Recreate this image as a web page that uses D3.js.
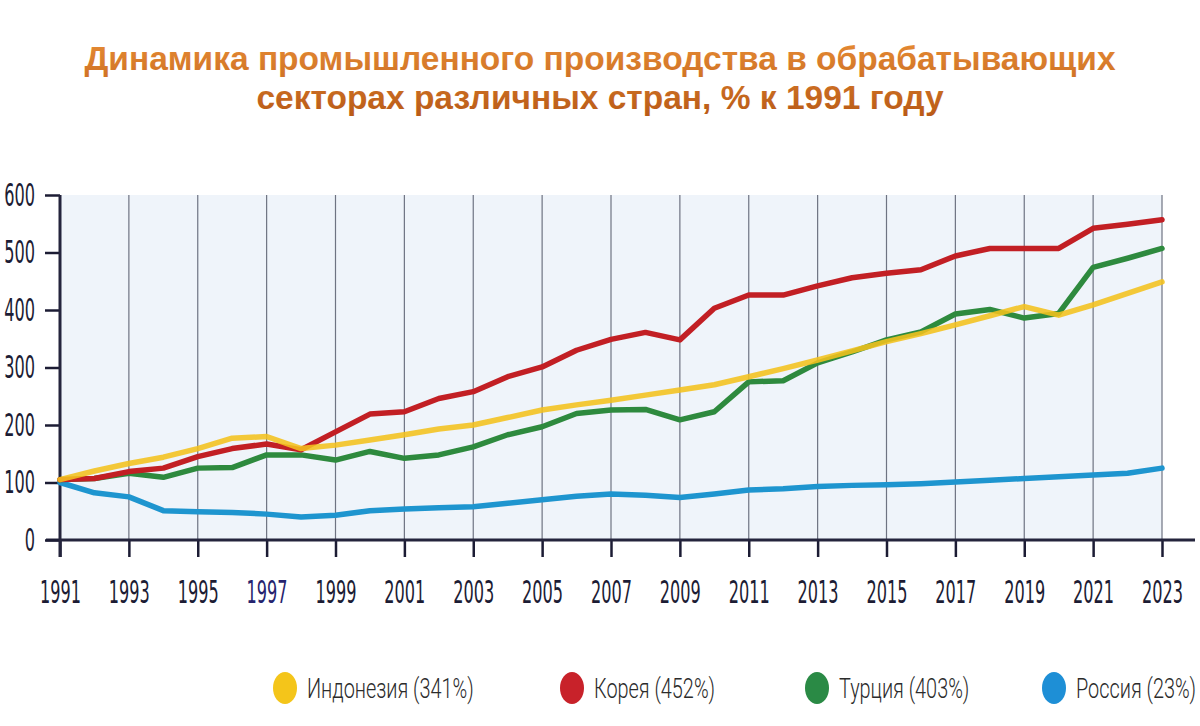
<!DOCTYPE html>
<html lang="ru">
<head>
    <meta charset="UTF-8">
    <title>Динамика промышленного производства</title>
    <script src="https://d3js.org/d3.v7.min.js"></script>
    <style>
        body {
            margin: 0;
            background: #ffffff;
        }
        svg {
            display: block;
        }
        .tick-label {
            font-family: "DejaVu Sans Condensed", "DejaVu Sans", sans-serif;
            font-size: 32px;
            fill: #1c1c34;
        }
        .legend-label {
            font-family: Roboto, "Noto Sans", sans-serif;
            font-weight: 300;
            font-size: 28px;
            fill: #2b2b2b;
        }
        .title {
            font-family: "Liberation Sans", Arial, sans-serif;
            font-weight: bold;
            font-size: 33.5px;
        }
    </style>
</head>
<body>
<div id="chart"></div>
<script>
    // chart data, % of 1991 level
    const years = d3.range(1991, 2024);
    const indonesia = [105, 120, 133, 144, 159, 177, 180, 159, 165, 174, 183, 193, 200, 213, 226, 235, 243,
        252, 261, 270, 284, 298, 313, 329, 345, 359, 374, 390, 406, 391, 409, 429, 449];
    const korea = [105, 107, 119, 125, 145, 159, 167, 157, 188, 219, 223, 246, 258, 284, 301, 330, 349,
        361, 348, 403, 426, 426, 442, 456, 464, 470, 494, 507, 507, 507, 542, 549, 557];
    const turkey = [105, 107, 116, 109, 125, 126, 148, 148, 139, 154, 142, 148, 162, 183, 197, 220, 226,
        227, 209, 223, 275, 277, 308, 327, 348, 362, 393, 401, 386, 394, 474, 490, 507];
    const russia = [100, 82, 75, 51, 49, 48, 45, 40, 43, 51, 54, 56, 58, 64, 70, 76, 80,
        78, 74, 80, 87, 89, 93, 95, 96, 98, 101, 104, 107, 110, 113, 116, 125];

    const xTicks = d3.range(1991, 2024, 2);
    const yTicks = [0, 100, 200, 300, 400, 500, 600];

    const seriesNames = ["Индонезия (341%)", "Корея (452%)", "Турция (403%)", "Россия (23%)"];

    const width = 1200, height = 726;
    const plot = { left: 60, right: 1162, top: 195, bottom: 540 };
    const sx = 0.56; // horizontal squeeze for the condensed tick font

    const svg = d3.select("#chart").append("svg")
        .attr("width", width)
        .attr("height", height);

    // title gradient
    const defs = svg.append("defs");
    const grad = defs.append("linearGradient")
        .attr("id", "titleGrad")
        .attr("x1", 0).attr("y1", 0).attr("x2", 0).attr("y2", 1);
    grad.append("stop").attr("offset", "0%").attr("stop-color", "#e68b34");
    grad.append("stop").attr("offset", "100%").attr("stop-color", "#b95a17");

    const title = svg.append("text")
        .attr("class", "title")
        .attr("text-anchor", "middle")
        .attr("fill", "url(#titleGrad)");
    title.append("tspan").attr("x", 600).attr("y", 70)
        .text("Динамика промышленного производства в обрабатывающих");
    title.append("tspan").attr("x", 600).attr("y", 109)
        .text("секторах различных стран, % к 1991 году");

    const x = d3.scaleLinear().domain([1991, 2023]).range([plot.left, plot.right]);
    const y = d3.scaleLinear().domain([0, 600]).range([plot.bottom, plot.top]);

    // panel background
    svg.append("rect")
        .attr("x", x(1991))
        .attr("y", y(600))
        .attr("width", x(2023) - x(1991))
        .attr("height", y(0) - y(600))
        .attr("fill", "#eff4fa");

    // vertical grid lines
    svg.append("g")
        .selectAll("line")
        .data(xTicks.slice(1))
        .enter().append("line")
        .attr("x1", d => x(d)).attr("x2", d => x(d))
        .attr("y1", y(600)).attr("y2", y(0))
        .attr("stroke", "#6e7382")
        .attr("stroke-width", 1.2);

    // x axis
    const xAxis = svg.append("g")
        .attr("transform", `translate(0, ${y(0)})`)
        .call(d3.axisBottom(x).tickValues(xTicks).tickFormat(d3.format("d")).tickSize(17).tickSizeOuter(0));
    xAxis.select(".domain").remove();
    xAxis.attr("font-size", null).attr("font-family", null);
    xAxis.selectAll(".tick line").attr("stroke", "#1c1c34").attr("stroke-width", 2.5);
    xAxis.selectAll(".tick text")
        .attr("class", "tick-label")
        .attr("fill", null)
        .attr("y", 40)
        .attr("dy", "0.71em")
        .attr("transform", `scale(${sx},1)`)
        .style("fill", d => d === 1997 ? "#26246e" : "#1c1c34");

    svg.append("line")
        .attr("x1", x(1991) - 14).attr("x2", x(2023) + 33)
        .attr("y1", y(0)).attr("y2", y(0))
        .attr("stroke", "#24243c")
        .attr("stroke-width", 3);

    // y axis
    const yAxis = svg.append("g")
        .attr("transform", `translate(${plot.left}, 0)`)
        .call(d3.axisLeft(y).tickValues(yTicks).tickSize(15).tickSizeOuter(0));
    yAxis.select(".domain").remove();
    yAxis.attr("font-size", null).attr("font-family", null);
    yAxis.selectAll(".tick line").attr("stroke", "#1c1c34").attr("stroke-width", 2.5);
    yAxis.selectAll(".tick text")
        .attr("class", "tick-label")
        .attr("fill", null)
        .attr("x", -25 / sx)
        .attr("transform", `scale(${sx},1)`);

    svg.append("line")
        .attr("x1", plot.left).attr("x2", plot.left)
        .attr("y1", y(600)).attr("y2", y(0) + 17)
        .attr("stroke", "#24243c")
        .attr("stroke-width", 3);

    // lines
    const line = d3.line()
        .x((d, i) => x(years[i]))
        .y(d => y(d));

    const series = [
        { values: russia, color: "#1e95cf", opacity: 1 },
        { values: turkey, color: "#2e8a3e", opacity: 1 },
        { values: korea, color: "#c21f24", opacity: 1 },
        { values: indonesia, color: "#f4c21c", opacity: 0.88 }
    ];

    svg.append("g")
        .selectAll("path")
        .data(series)
        .enter().append("path")
        .attr("d", d => line(d.values))
        .attr("fill", "none")
        .attr("stroke", d => d.color)
        .attr("stroke-opacity", d => d.opacity)
        .attr("stroke-width", 5.5)
        .attr("stroke-linejoin", "round")
        .attr("stroke-linecap", "round");

    // legend
    const legendColors = ["#f4c51a", "#c8222a", "#2a8a45", "#1e8fd6"];
    const legendX = [285, 572, 817, 1054];
    const lsx = 0.71;
    const legend = svg.append("g");
    seriesNames.forEach((name, i) => {
        const g = legend.append("g").attr("transform", `translate(${legendX[i]}, 688)`);
        g.append("ellipse")
            .attr("rx", 12).attr("ry", 16)
            .attr("fill", legendColors[i]);
        g.append("text")
            .attr("class", "legend-label")
            .attr("x", 22 / lsx)
            .attr("y", 10)
            .attr("transform", `scale(${lsx},1)`)
            .text(name);
    });
</script>
</body>
</html>
